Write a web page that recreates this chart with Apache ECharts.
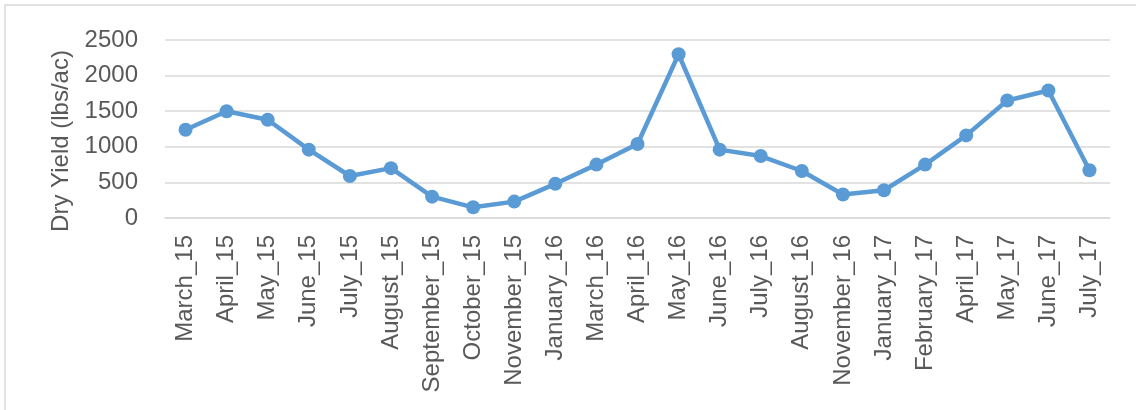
<!DOCTYPE html>
<html>
<head>
<meta charset="utf-8">
<script src="https://cdn.jsdelivr.net/npm/echarts@6/dist/echarts.min.js"></script>
<style>
  html, body { margin: 0; padding: 0; background: #fff; }
  #chart { width: 1136px; height: 410px; }
</style>
</head>
<body>
<div id="chart"></div>
<script>
var months = ['March_15', 'April_15', 'May_15', 'June_15', 'July_15', 'August_15',
    'September_15', 'October_15', 'November_15', 'January_16', 'March_16', 'April_16',
    'May_16', 'June_16', 'July_16', 'August_16', 'November_16', 'January_17',
    'February_17', 'April_17', 'May_17', 'June_17', 'July_17'];
var dryYield = [1240, 1500, 1380, 960, 590, 700, 300, 150, 230, 480, 750, 1040,
    2300, 960, 870, 660, 330, 390, 750, 1160, 1650, 1790, 670];
var yTicks = [0, 500, 1000, 1500, 2000, 2500];

var font = 'Liberation Sans';
var grey = '#595959';

var e = echarts.init(document.getElementById('chart'));
e.setOption({
    animation: false,
    backgroundColor: '#fff',
    graphic: [{
        type: 'rect',
        shape: {x: 5, y: 5, width: 1300, height: 600},
        style: {fill: 'none', stroke: '#d9d9d9', lineWidth: 1.5}
    }],
    grid: {left: 165, right: 26, top: 40, bottom: 192},
    xAxis: {
        type: 'category',
        data: months,
        boundaryGap: true,
        axisLine: {lineStyle: {color: '#d9d9d9', width: 1.5}},
        axisTick: {show: false},
        axisLabel: {
            interval: 0,
            rotate: 90,
            margin: 17,
            color: grey,
            fontFamily: font,
            fontSize: 24
        }
    },
    yAxis: {
        type: 'value',
        min: yTicks[0],
        max: yTicks[yTicks.length - 1],
        interval: 500,
        name: 'Dry Yield (lbs/ac)',
        nameLocation: 'middle',
        nameGap: 82,
        nameTextStyle: {color: grey, fontFamily: font, fontSize: 24, padding: [0, 24, 0, 0]},
        axisLine: {show: false},
        axisTick: {show: false},
        axisLabel: {
            margin: 27,
            color: grey,
            fontFamily: font,
            fontSize: 24,
            formatter: function (v) { return String(v); }
        },
        splitLine: {lineStyle: {color: '#d9d9d9', width: 1.5}}
    },
    series: [{
        type: 'line',
        data: dryYield,
        symbol: 'circle',
        symbolSize: 14,
        lineStyle: {color: '#5b9bd5', width: 4.5},
        itemStyle: {color: '#5b9bd5'}
    }]
});
</script>
</body>
</html>
